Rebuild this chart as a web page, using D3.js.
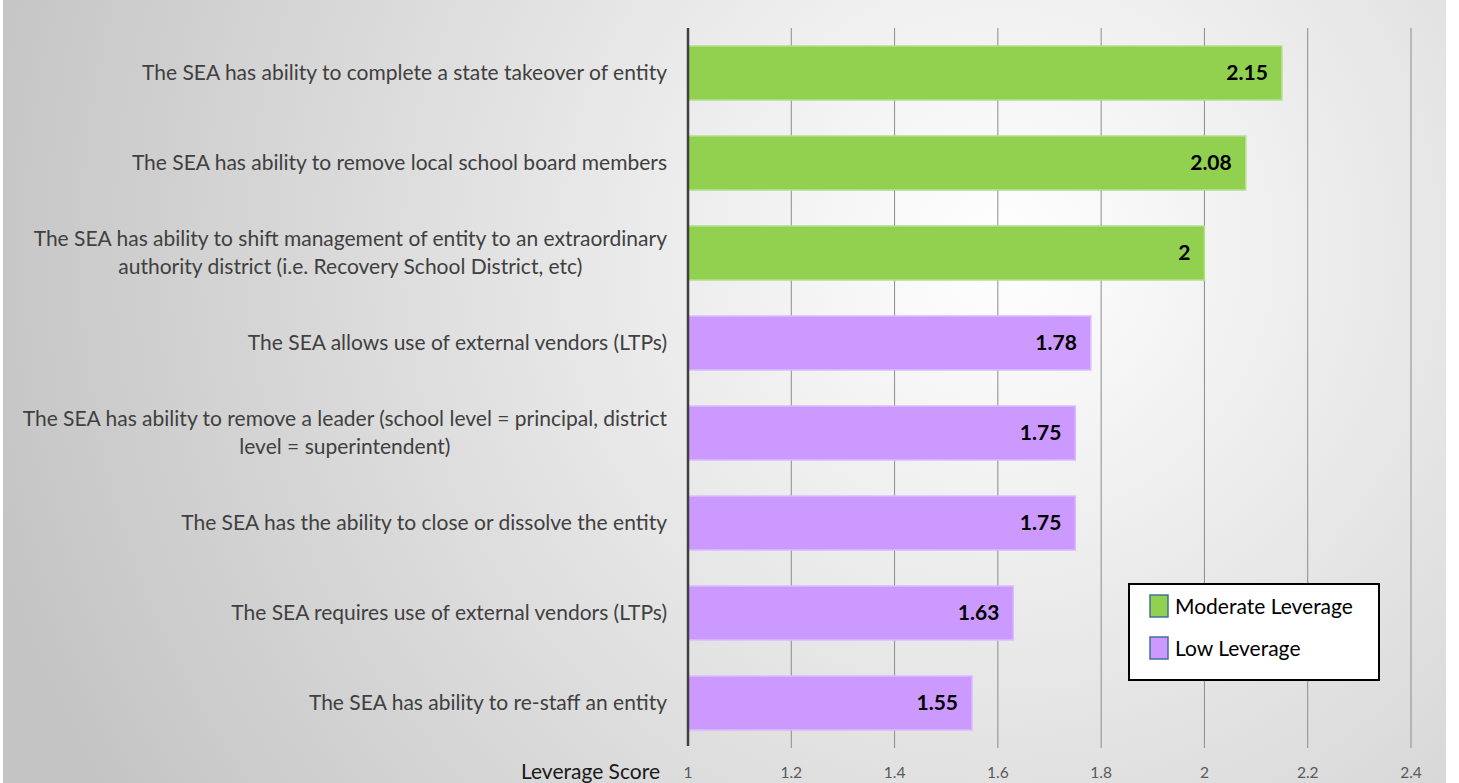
<!DOCTYPE html>
<html>
<head>
<meta charset="utf-8">
<script src="https://cdn.jsdelivr.net/npm/d3@7"></script>
<style>
  body { margin: 0; background: #fff; }
  svg { display: block; font-family: Lato, "Open Sans", sans-serif; }
</style>
</head>
<body>
<svg width="1459" height="783"></svg>
<script>
// chart data
var labels = [
    ['The SEA has ability to complete a state takeover of entity'],
    ['The SEA has ability to remove local school board members'],
    ['The SEA has ability to shift management of entity to an extraordinary', 'authority district (i.e. Recovery School District, etc)'],
    ['The SEA allows use of external vendors (LTPs)'],
    ['The SEA has ability to remove a leader (school level = principal, district', 'level = superintendent)'],
    ['The SEA has the ability to close or dissolve the entity'],
    ['The SEA requires use of external vendors (LTPs)'],
    ['The SEA has ability to re-staff an entity']
];
var scores = [2.15, 2.08, 2, 1.78, 1.75, 1.75, 1.63, 1.55];
var groups = ['Moderate Leverage', 'Moderate Leverage', 'Moderate Leverage', 'Low Leverage',
              'Low Leverage', 'Low Leverage', 'Low Leverage', 'Low Leverage'];
var groupNames = ['Moderate Leverage', 'Low Leverage'];
var xTicks = [1, 1.2, 1.4, 1.6, 1.8, 2, 2.2, 2.4];

var svg = d3.select('svg');
var svgWidth = +svg.attr('width');
var svgHeight = +svg.attr('height');

// background gradient
var defs = svg.append('defs');
var grad = defs.append('radialGradient')
    .attr('id', 'bg')
    .attr('gradientUnits', 'userSpaceOnUse')
    .attr('cx', 1000).attr('cy', 250).attr('r', 1050);
grad.append('stop').attr('offset', '0%').attr('stop-color', '#ffffff');
grad.append('stop').attr('offset', '100%').attr('stop-color', '#c4c4c4');

svg.append('rect')
    .attr('x', 3).attr('y', 0)
    .attr('width', 1443).attr('height', svgHeight)
    .attr('fill', 'url(#bg)');

var xScale = d3.scaleLinear().domain([1, 2.4]).range([688, 1411]);
var yScale = d3.scaleBand()
    .domain(d3.range(scores.length))
    .range([28, 748])
    .paddingInner(0.4)
    .paddingOuter(0.2);
var colorScale = d3.scaleOrdinal().domain(groupNames).range(['#92d050', '#cc99ff']);
var strokeScale = d3.scaleOrdinal().domain(groupNames).range(['#b4e08a', '#dcbcff']);

// gridlines
svg.append('g')
    .attr('class', 'grid')
    .selectAll('line')
    .data(xTicks.slice(1))
    .enter().append('line')
    .attr('x1', function(d) { return xScale(d); })
    .attr('x2', function(d) { return xScale(d); })
    .attr('y1', 28).attr('y2', 748)
    .attr('stroke', '#8c8c8c')
    .attr('stroke-width', 1);

// bars
var barG = svg.append('g');
barG.selectAll('rect')
    .data(scores)
    .enter().append('rect')
    .attr('x', xScale(1))
    .attr('y', function(d, i) { return yScale(i); })
    .attr('width', function(d) { return xScale(d) - xScale(1); })
    .attr('height', yScale.bandwidth())
    .attr('fill', function(d, i) { return colorScale(groups[i]); })
    .attr('stroke', function(d, i) { return strokeScale(groups[i]); })
    .attr('stroke-width', 1.5);

// value labels
barG.selectAll('text')
    .data(scores)
    .enter().append('text')
    .attr('x', function(d) { return xScale(d) - 14; })
    .attr('y', function(d, i) { return yScale(i) + yScale.bandwidth() / 2; })
    .attr('dy', '.35em')
    .attr('text-anchor', 'end')
    .attr('font-weight', 'bold')
    .attr('font-size', 21)
    .attr('fill', '#000')
    .text(function(d) { return d; });

// category labels
var labelG = svg.append('g').attr('fill', '#404040').attr('font-size', 21);
labels.forEach(function(lines, i) {
    var cy = yScale(i) + yScale.bandwidth() / 2;
    var t = labelG.append('text')
        .attr('y', cy - (lines.length - 1) * 14);
    lines.forEach(function(line, j) {
        t.append('tspan')
            .attr('x', 0)
            .attr('dy', j === 0 ? '.35em' : 28)
            .text(line);
    });
    var w = 0;
    t.selectAll('tspan').each(function() { w = Math.max(w, this.getComputedTextLength()); });
    var mid = 667 - w / 2;
    t.attr('text-anchor', 'middle');
    t.selectAll('tspan').attr('x', mid);
});

// y axis line
svg.append('line')
    .attr('x1', xScale(1)).attr('x2', xScale(1))
    .attr('y1', 28).attr('y2', 746)
    .attr('stroke', '#404040')
    .attr('stroke-width', 2.5);

// x tick labels
svg.append('g')
    .selectAll('text')
    .data(xTicks)
    .enter().append('text')
    .attr('x', function(d) { return xScale(d); })
    .attr('y', 778)
    .attr('text-anchor', 'middle')
    .attr('font-size', 15.5)
    .attr('fill', '#595959')
    .text(function(d) { return d; });

svg.append('text')
    .attr('x', 660)
    .attr('y', 779)
    .attr('text-anchor', 'end')
    .attr('font-size', 21)
    .attr('fill', '#1a1a1a')
    .text('Leverage Score');

// legend
var legend = svg.append('g').attr('transform', 'translate(1129,584)');
legend.append('rect')
    .attr('width', 250).attr('height', 96)
    .attr('fill', '#fff')
    .attr('stroke', '#000')
    .attr('stroke-width', 2);
var items = legend.selectAll('.item')
    .data(groupNames)
    .enter().append('g')
    .attr('class', 'item')
    .attr('transform', function(d, i) { return 'translate(0,' + (23 + i * 42) + ')'; });
items.append('rect')
    .attr('x', 21).attr('y', -12)
    .attr('width', 18).attr('height', 22)
    .attr('fill', function(d) { return colorScale(d); })
    .attr('stroke', '#41719c')
    .attr('stroke-width', 1.5);
items.append('text')
    .attr('x', 46).attr('y', 0)
    .attr('dy', '.35em')
    .attr('font-size', 21)
    .attr('fill', '#000')
    .text(function(d) { return d; });
</script>
</body>
</html>
